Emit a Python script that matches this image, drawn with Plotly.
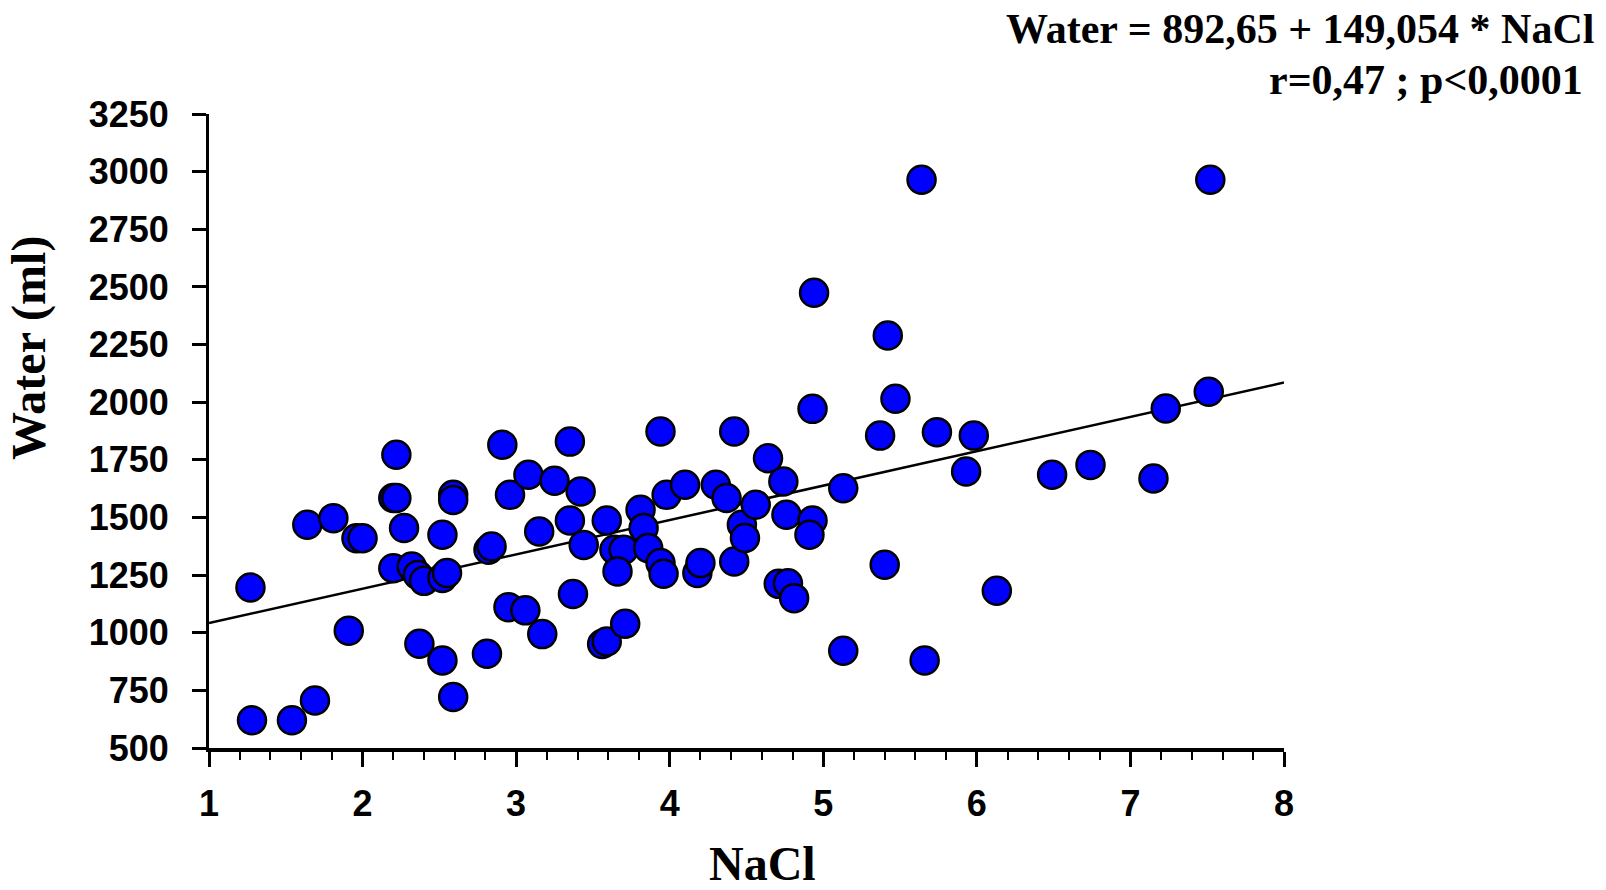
import plotly.graph_objects as go

# NaCl values (x) and Water volumes in ml (y)
nacl = [
    1.27, 1.28, 1.54, 1.69, 1.64, 1.81, 1.91, 1.96, 2.00, 2.22,
    2.20, 2.22, 2.27, 2.20, 2.32, 2.36, 2.40, 2.52, 2.52, 2.55,
    2.59, 2.59, 2.37, 2.52, 2.59,
    2.81, 2.82, 2.84, 2.91, 2.96, 2.95, 3.06, 3.08, 3.15, 3.17,
    3.25, 3.35, 3.35, 3.37, 3.42, 3.44, 3.56, 3.59, 3.59, 3.64,
    3.70, 3.66, 3.71, 3.81, 3.83, 3.86, 3.94, 3.94, 3.96, 3.98,
    4.10, 4.18, 4.20, 4.30, 4.37, 4.42, 4.42, 4.47, 4.49, 4.56,
    4.94, 5.42, 4.93, 5.47, 5.37, 5.74, 5.98, 5.93, 4.64, 4.74,
    5.13, 4.76, 4.93, 4.91, 5.40, 4.71, 4.77, 4.81, 6.13, 5.13,
    5.66, 5.64,
    7.52, 7.51, 7.23, 6.49, 6.74, 7.15,
]
water = [
    1196, 620, 620, 706, 1468, 1497, 1009, 1410, 1410, 1772,
    1584, 1584, 1454, 1280, 1287, 1250, 1225, 1425, 1237, 1259,
    1598, 1576, 952, 880, 721,
    909, 1360, 1374, 1815, 1598, 1111, 1097, 1685, 1439, 994,
    1659, 1829, 1487, 1168, 1613, 1381, 951, 962, 1487, 1360,
    1360, 1266, 1039, 1533, 1454, 1367, 1873, 1302, 1256, 1598,
    1642, 1259, 1302, 1642, 1584, 1873, 1309, 1468, 1411, 1555,
    2475, 2289, 1971, 2015, 1855, 1870, 1855, 1699, 1757, 1656,
    1627, 1512, 1487, 1425, 1295, 1212, 1215, 1150, 1182, 922,
    880, 2965,
    2965, 2045, 1973, 1685, 1728, 1669,
]

# Regression line: Water = 892.65 + 149.054 * NaCl
intercept = 892.65
slope = 149.054
fit_x = [1, 8]
fit_y = [intercept + slope * v for v in fit_x]

x_ticks = [1, 2, 3, 4, 5, 6, 7, 8]
y_ticks = list(range(500, 3251, 250))

fig = go.Figure()
fig.add_trace(go.Scatter(
    x=fit_x, y=fit_y, mode="lines",
    line=dict(color="black", width=2.5),
    hoverinfo="skip", showlegend=False,
))
fig.add_trace(go.Scatter(
    x=nacl, y=water, mode="markers",
    marker=dict(color="#0000FF", size=28, line=dict(color="black", width=2.5)),
    cliponaxis=False, showlegend=False,
))

tick_font = dict(family="Liberation Sans", size=36, color="black", weight="bold")

fig.update_xaxes(
    range=[1, 8], tickvals=x_ticks, ticktext=[str(v) for v in x_ticks],
    showline=True, linecolor="black", linewidth=4,
    ticks="outside", ticklen=15, tickwidth=2.5, tickcolor="black",
    minor=dict(dtick=0.2, ticks="outside", ticklen=8, tickwidth=2, tickcolor="black"),
    showgrid=False, zeroline=False, tickfont=tick_font, ticklabelstandoff=6,
)
fig.update_yaxes(
    range=[500, 3250], tickvals=y_ticks, ticktext=[str(v) for v in y_ticks],
    showline=True, linecolor="black", linewidth=3,
    ticks="outside", ticklen=14, tickwidth=2.5, tickcolor="black",
    showgrid=False, zeroline=False, tickfont=tick_font, ticklabelstandoff=16,
)

# Axis titles
fig.add_annotation(
    text="NaCl", xref="paper", yref="paper", x=0.515, y=-0.182,
    xanchor="center", yanchor="middle", showarrow=False,
    font=dict(family="Liberation Serif", size=48, color="black", weight="bold"),
)
fig.add_annotation(
    text="Water (ml)", xref="paper", yref="paper", x=-0.1674, y=0.631,
    xanchor="center", yanchor="middle", showarrow=False, textangle=-90,
    font=dict(family="Liberation Serif", size=48, color="black", weight="bold"),
)

ann_font = dict(family="Liberation Serif", size=42, color="black", weight="bold")
fig.add_annotation(
    text="Water = 892,65 + 149,054 * NaCl", xref="paper", yref="paper",
    x=1.290, y=1.134, xanchor="right", yanchor="middle", showarrow=False, font=ann_font,
)
fig.add_annotation(
    text="r=0,47 ; p<0,0001", xref="paper", yref="paper",
    x=1.280, y=1.054, xanchor="right", yanchor="middle", showarrow=False, font=ann_font,
)

fig.update_layout(
    width=1606, height=890,
    margin=dict(l=209, r=322, t=114, b=142),
    plot_bgcolor="white", paper_bgcolor="white",
)

fig.write_html("out.html")
